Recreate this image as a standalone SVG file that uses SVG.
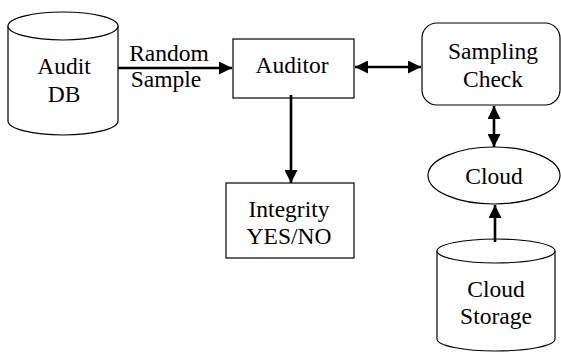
<svg xmlns="http://www.w3.org/2000/svg" width="561" height="352" viewBox="0 0 561 352">
  <style>
    .shape { fill: #fff; stroke: #000; stroke-width: 1.2; }
    .lbl { font-family: "Liberation Serif", "Times New Roman", serif; font-size: 23.5px; fill: #000; text-anchor: middle; }
    .edge { stroke: #000; stroke-width: 2.6; fill: none; }
  </style>
  <defs>
    <marker id="head" viewBox="0 0 10 10" refX="10" refY="5" markerWidth="5" markerHeight="5" orient="auto-start-reverse" markerUnits="strokeWidth">
      <path d="M0,0 L10,5 L0,10 Z" fill="#000"/>
    </marker>
  </defs>
  <rect width="561" height="352" fill="#fff"/>

  <g id="audit-db">
    <path class="shape" d="M8,26 A55,14 0 0 1 118,26 L118,121 A55,14 0 0 1 8,121 Z"/>
    <path class="shape" fill="none" d="M8,26 A55,14 0 0 0 118,26"/>
    <text class="lbl" x="64" y="74">Audit</text>
    <text class="lbl" x="64" y="102">DB</text>
  </g>

  <g id="auditor">
    <rect class="shape" x="233" y="39" width="121" height="59"/>
    <text class="lbl" x="292" y="73">Auditor</text>
  </g>

  <g id="sampling-check">
    <rect class="shape" x="422" y="23" width="138" height="82" rx="15" ry="15"/>
    <text class="lbl" x="493" y="59">Sampling</text>
    <text class="lbl" x="493" y="87">Check</text>
  </g>

  <g id="cloud">
    <ellipse class="shape" cx="494" cy="175.5" rx="66" ry="28.5"/>
    <text class="lbl" x="494" y="184">Cloud</text>
  </g>

  <g id="cloud-storage">
    <path class="shape" d="M437,251 A59,12 0 0 1 555,251 L555,339 A59,12 0 0 1 437,339 Z"/>
    <path class="shape" fill="none" d="M437,251 A59,12 0 0 0 555,251"/>
    <text class="lbl" x="496" y="297">Cloud</text>
    <text class="lbl" x="496" y="324">Storage</text>
  </g>

  <g id="integrity">
    <rect class="shape" x="226" y="183" width="128" height="75"/>
    <text class="lbl" x="289" y="217">Integrity</text>
    <text class="lbl" x="289" y="244">YES/NO</text>
  </g>

  <g id="connectors">
    <line class="edge" x1="118" y1="68" x2="232" y2="68" marker-end="url(#head)"/>
    <text class="lbl" x="169" y="61">Random</text>
    <text class="lbl" x="166" y="87">Sample</text>
    <line class="edge" x1="355" y1="67" x2="421" y2="67" marker-start="url(#head)" marker-end="url(#head)"/>
    <line class="edge" x1="291" y1="95" x2="291" y2="183" marker-end="url(#head)"/>
    <line class="edge" x1="494" y1="106" x2="494" y2="147" marker-start="url(#head)" marker-end="url(#head)"/>
    <line class="edge" x1="495" y1="242" x2="495" y2="205" marker-end="url(#head)"/>
  </g>
</svg>
